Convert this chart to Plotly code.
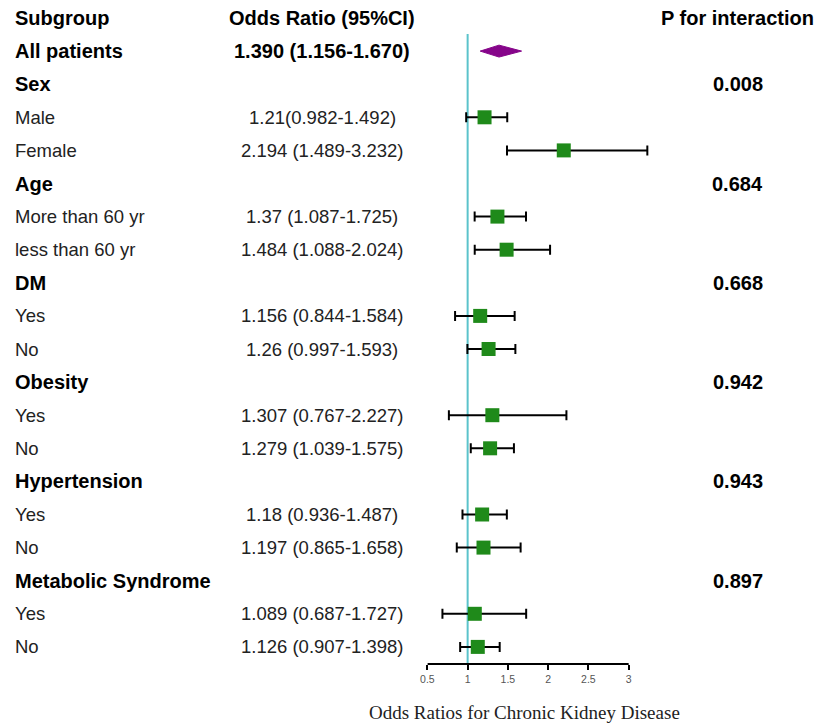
import plotly.graph_objects as go

# ---- data ----
labels = ["All patients", "Sex", "Male", "Female", "Age", "More than 60 yr", "less than 60 yr",
          "DM", "Yes", "No", "Obesity", "Yes", "No", "Hypertension", "Yes", "No",
          "Metabolic Syndrome", "Yes", "No"]
is_group = [True, True, False, False, True, False, False, True, False, False, True, False, False,
            True, False, False, True, False, False]
or_text = ["1.390 (1.156-1.670)", "", "1.21(0.982-1.492)", "2.194 (1.489-3.232)", "",
           "1.37 (1.087-1.725)", "1.484 (1.088-2.024)", "", "1.156 (0.844-1.584)",
           "1.26 (0.997-1.593)", "", "1.307 (0.767-2.227)", "1.279 (1.039-1.575)", "",
           "1.18 (0.936-1.487)", "1.197 (0.865-1.658)", "", "1.089 (0.687-1.727)",
           "1.126 (0.907-1.398)"]
p_int = ["", "0.008", "", "", "0.684", "", "", "0.668", "", "", "0.942", "", "", "0.943", "", "",
         "0.897", "", ""]
est = [1.390, None, 1.21, 2.194, None, 1.37, 1.484, None, 1.156, 1.26, None, 1.307, 1.279, None,
       1.18, 1.197, None, 1.089, 1.126]
lo = [1.156, None, 0.982, 1.489, None, 1.087, 1.088, None, 0.844, 0.997, None, 0.767, 1.039, None,
      0.936, 0.865, None, 0.687, 0.907]
hi = [1.670, None, 1.492, 3.232, None, 1.725, 2.024, None, 1.584, 1.593, None, 2.227, 1.575, None,
      1.487, 1.658, None, 1.727, 1.398]
headers = ["Subgroup", "Odds Ratio (95%CI)", "P for interaction"]
x_ticks = [0.5, 1, 1.5, 2, 2.5, 3]
x_tick_text = ["0.5", "1", "1.5", "2", "2.5", "3"]
axis_title = "Odds Ratios for Chronic Kidney Disease"

W, H = 821, 724
PLOT_H = 664
rows = list(range(1, len(labels) + 1))
SANS = "Liberation Sans, Arial, sans-serif"
X0_PX, UNIT_PX = 424.0, 81.2   # pixel of x=0.5 and pixels per unit
XMAX = 3.3

fig = go.Figure()

# individual subgroup estimates
sx, sy, ep, em = [], [], [], []
for r, e, l, h in zip(rows[1:], est[1:], lo[1:], hi[1:]):
    if e is None:
        continue
    sx.append(e); sy.append(r); ep.append(h - e); em.append(e - l)
fig.add_trace(go.Scatter(
    x=sx, y=sy, mode="markers", cliponaxis=False,
    marker=dict(symbol="square", size=14, color="#1f8a1a", line=dict(width=0)),
    error_x=dict(type="data", array=ep, arrayminus=em, color="black", thickness=2, width=5),
    showlegend=False, hoverinfo="skip"))

# overall diamond
dh = 0.18
fig.add_trace(go.Scatter(
    x=[lo[0], est[0], hi[0], est[0], lo[0]],
    y=[rows[0], rows[0] - dh, rows[0], rows[0] + dh, rows[0]],
    mode="lines", fill="toself", fillcolor="#86058a", line=dict(color="#86058a", width=1),
    showlegend=False, hoverinfo="skip"))

top_i = -18 / 33.1
bot_i = (PLOT_H - 18) / 33.1

# reference line at 1
fig.add_shape(type="line", x0=1, x1=1, xref="x", y0=0.48, y1=bot_i, yref="y",
              line=dict(color="#5bc3cb", width=2), layer="below")
# axis baseline from 0.5 to 3
fig.add_shape(type="line", x0=x_ticks[0], x1=x_ticks[-1], xref="x", y0=0, y1=0, yref="paper",
              line=dict(color="black", width=2))

ann = []
def px(x):
    return x / W

LEFT = 6
CEN_OR = 318
CEN_P = 737
ann.append(dict(x=px(LEFT), y=0, text="<b>%s</b>" % headers[0], xanchor="left",
                font=dict(size=20, family=SANS, color="black")))
ann.append(dict(x=px(CEN_OR), y=0, text="<b>%s</b>" % headers[1], xanchor="center",
                font=dict(size=20, family=SANS, color="black")))
ann.append(dict(x=px(CEN_P), y=0, text="<b>%s</b>" % headers[2], xanchor="center",
                font=dict(size=20, family=SANS, color="black")))
for r, lab, g, t, p in zip(rows, labels, is_group, or_text, p_int):
    if g:
        ann.append(dict(x=px(LEFT), y=r, text="<b>%s</b>" % lab, xanchor="left",
                        font=dict(size=20, family=SANS, color="black")))
    else:
        ann.append(dict(x=px(LEFT), y=r, text=lab, xanchor="left",
                        font=dict(size=18.5, family=SANS, color="#222")))
    if t:
        if r == 1:
            ann.append(dict(x=px(CEN_OR), y=r, text="<b>%s</b>" % t, xanchor="center",
                            font=dict(size=20, family=SANS, color="black")))
        else:
            ann.append(dict(x=px(CEN_OR), y=r, text=t, xanchor="center",
                            font=dict(size=18.5, family=SANS, color="#222")))
    if p:
        ann.append(dict(x=px(CEN_P), y=r, text="<b>%s</b>" % p, xanchor="center",
                        font=dict(size=20, family=SANS, color="black")))
for a in ann:
    a.update(xref="paper", yref="y", yanchor="middle", showarrow=False)
ann.append(dict(x=px(522), y=-(712 - PLOT_H) / PLOT_H, xref="paper", yref="paper", text=axis_title,
                showarrow=False, xanchor="center", yanchor="middle",
                font=dict(size=19, family="Liberation Serif, Times New Roman, serif", color="#222")))

x_right_px = X0_PX + (XMAX - x_ticks[0]) * UNIT_PX
fig.update_layout(
    width=W, height=H, margin=dict(l=0, r=0, t=0, b=H - PLOT_H, pad=0),
    paper_bgcolor="white", plot_bgcolor="white",
    annotations=ann,
    xaxis=dict(domain=[X0_PX / W, x_right_px / W], range=[x_ticks[0], XMAX], tickvals=x_ticks,
               ticktext=x_tick_text, showline=False, ticks="outside", ticklen=5,
               tickwidth=2, tickcolor="black", showgrid=False, zeroline=False,
               tickfont=dict(size=10.5, family=SANS, color="#555"), fixedrange=True),
    yaxis=dict(range=[bot_i, top_i], visible=False, showgrid=False, zeroline=False),
)
fig.write_html("out.html")
